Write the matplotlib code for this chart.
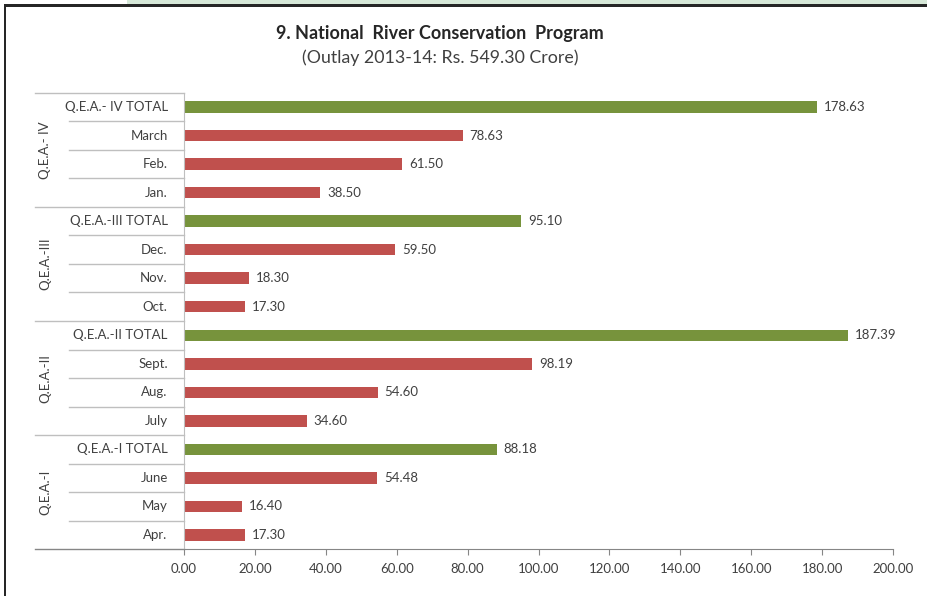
import matplotlib
matplotlib.use("Agg")
from matplotlib import pyplot as plt
from matplotlib import transforms
from matplotlib.patches import Rectangle
import numpy as np

plt.rcParams['font.family'] = ['Lato', 'DejaVu Sans']

# top to bottom, as in the chart
labels = ["Q.E.A.- IV TOTAL", "March", "Feb.", "Jan.",
          "Q.E.A.-III TOTAL", "Dec.", "Nov.", "Oct.",
          "Q.E.A.-II TOTAL", "Sept.", "Aug.", "July",
          "Q.E.A.-I TOTAL", "June", "May", "Apr."]
values = [178.63, 78.63, 61.50, 38.50,
          95.10, 59.50, 18.30, 17.30,
          187.39, 98.19, 54.60, 34.60,
          88.18, 54.48, 16.40, 17.30]
groups = ["Q.E.A.- IV", "Q.E.A.-III", "Q.E.A.-II", "Q.E.A.-I"]
xticks = [0, 20, 40, 60, 80, 100, 120, 140, 160, 180, 200]

red = "#C0504D"
green = "#77933C"
grid = "#BFBFBF"
axis_col = "#868686"
txt = "#404040"

W, H = 927, 596
fig = plt.figure(figsize=(W / 100, H / 100), dpi=100)

# frame decoration around the chart (screenshot border)
fig.patches.append(Rectangle((127 / W, 1 - 4 / H), 1, 4 / H, transform=fig.transFigure,
                             facecolor="#D6E8D8", edgecolor="none"))
fig.patches.append(Rectangle((4 / W, 1 - 7 / H), 1, 3 / H, transform=fig.transFigure,
                             facecolor="#262626", edgecolor="none"))
fig.patches.append(Rectangle((4 / W, 0), 2 / W, 1 - 4 / H, transform=fig.transFigure,
                             facecolor="#262626", edgecolor="none"))

ax = fig.add_axes([184 / W, 1 - 549.3 / H, (893 - 184) / W, (549.3 - 92.7) / H])

y = np.arange(len(labels))
colors = [green if "TOTAL" in l else red for l in labels]
bars = ax.barh(y, values, height=0.4, color=colors)
ax.bar_label(bars, labels=["%.2f" % v for v in values], padding=5,
             fontsize=9.5, color=txt)

ax.set_ylim(len(labels) - 0.5, -0.5)
ax.set_xlim(0, 200)
ax.set_xticks(xticks)
ax.set_xticklabels(["%.2f" % t for t in xticks], fontsize=9.5, color=txt)
ax.tick_params(axis='x', direction='out', length=4, color=axis_col, pad=6)
ax.set_yticks([])

for s in ["top", "right"]:
    ax.spines[s].set_visible(False)
ax.spines["left"].set_color(grid)
ax.spines["bottom"].set_color(axis_col)

# multi-level category axis
tr = transforms.blended_transform_factory(ax.transAxes, ax.transData)
group_x = (35 - 184) / 709
inner_x = (69 - 184) / 709
for i in range(len(labels) + 1):
    b = i - 0.5
    x0 = group_x if i % 4 == 0 else inner_x
    col = axis_col if i == len(labels) else grid
    ax.plot([x0, 0], [b, b], transform=tr, color=col, lw=1, clip_on=False)
for i, l in enumerate(labels):
    ax.text(-0.023, i, l, transform=tr, ha="right", va="center",
            fontsize=9.5, color=txt)
for g, name in enumerate(groups):
    ax.text((45 - 184) / 709, g * 4 + 1.5, name, transform=tr, ha="center",
            va="center", rotation=90, fontsize=9.5, color=txt)

fig.text(440 / W, 1 - 33 / H, "9. National  River Conservation  Program",
         ha="center", va="center", fontsize=13, fontweight="bold", color="#262626")
fig.text(440 / W, 1 - 58 / H, "(Outlay 2013-14: Rs. 549.30 Crore)",
         ha="center", va="center", fontsize=12.8, color=txt)

fig.savefig("out.png", dpi=100)
